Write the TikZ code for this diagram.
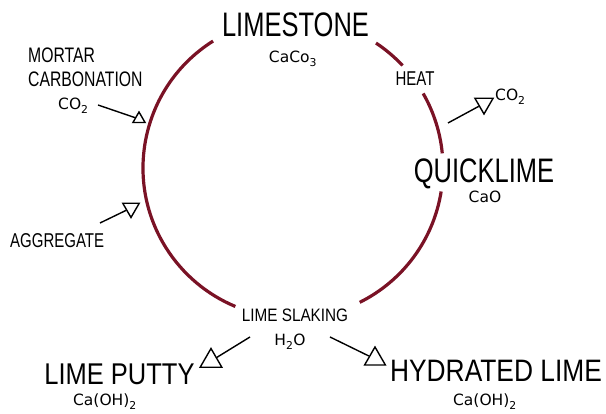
\documentclass[tikz,border=0pt]{standalone}
\usepackage{fontspec}
\newfontfamily\condfont[FakeStretch=0.75]{Liberation Sans}
\newfontfamily\widefont[FakeStretch=0.85]{Liberation Sans}
\newfontfamily\chemfont{DejaVu Sans}
\usetikzlibrary{positioning, shapes.geometric}
\definecolor{cyclecolor}{HTML}{7A1225}

\begin{document}
\begin{tikzpicture}[
    x=1pt, y=1pt,
    ring/.style={draw=cyclecolor, line width=3.2pt},
    stage/.style={font=\condfont\fontsize{34}{34}\selectfont, inner sep=0pt, anchor=base},
    stagewide/.style={font=\widefont\fontsize{30}{30}\selectfont, inner sep=0pt, anchor=base},
    process/.style={font=\condfont\fontsize{20}{20}\selectfont, inner sep=0pt, anchor=base west},
    processwide/.style={font=\widefont\fontsize{18}{18}\selectfont, inner sep=0pt, anchor=base},
    formula/.style={font=\chemfont\fontsize{15.5}{15.5}\selectfont, inner sep=0pt, anchor=base},
    tri/.style={draw, regular polygon, regular polygon sides=3, inner sep=0pt, line width=1.4pt},
    feed/.style={draw, line width=1.4pt},
]
\useasboundingbox (0,0) rectangle (606,414);

% === CYCLE ===
\coordinate (centre) at (293,246);
\draw[ring] (centre) ++(56.4:150) arc[start angle=56.4, end angle=43.1, radius=150];
\draw[ring] (centre) ++(29.8:150) arc[start angle=29.8, end angle=5.6, radius=150];
\draw[ring] (centre) ++(-9:150) arc[start angle=-9, end angle=-63.6, radius=150];
\draw[ring] (centre) ++(122.2:150) arc[start angle=122.2, end angle=247.4, radius=150];

% === STAGES ===
\node[stage] (limestone) at (295.5,377) {LIMESTONE};
\node[formula] (caco3) at (293,351) {CaCo\textsubscript{3}};

\node[stage] (quicklime) at (484,231) {QUICKLIME};
\node[formula] (cao) at (485,211) {CaO};

\node[stagewide, font=\widefont\fontsize{30}{30}\selectfont] (putty) at (119.5,29) {LIME PUTTY};
\node[formula] (putty-f) at (105,8) {Ca(OH)\textsubscript{2}};

\node[stagewide, font=\widefont\fontsize{31}{31}\selectfont] (hydrated) at (496,32) {HYDRATED LIME};
\node[formula] (hydrated-f) at (485,8) {Ca(OH)\textsubscript{2}};

% === PROCESSES ===
\node[process, anchor=base] (heat) at (415,328) {HEAT};
\node[formula, anchor=base west] (co2-out) at (495,313) {CO\textsubscript{2}};

\node[process, font=\condfont\fontsize{21}{21}\selectfont] (mortar) at (28,351) {MORTAR};
\node[process, font=\condfont\fontsize{21}{21}\selectfont] (carbonation) at (28,327) {CARBONATION};
\node[formula, anchor=base west] (co2-in) at (58,304) {CO\textsubscript{2}};

\node[process] (aggregate) at (10,166) {AGGREGATE};

\node[processwide] (slaking) at (295,92) {LIME SLAKING};
\node[formula] (h2o) at (290,68) {H\textsubscript{2}O};

% === ARROWS ===
\node[tri, minimum size=14pt] (tri-mortar) at (139,295) {};
\node[tri, minimum size=19pt, shape border rotate=180] (tri-agg) at (131,206) {};
\node[tri, minimum size=21pt, shape border rotate=180] (tri-co2) at (484,310.5) {};
\node[tri, minimum size=25pt] (tri-putty) at (211,53) {};
\node[tri, minimum size=24pt] (tri-hyd) at (375,55) {};

\coordinate (mortar-start) at (98,309);
\coordinate (agg-start) at (100,191);
\coordinate (co2-start) at (448,291);
\coordinate (putty-start) at (250,77);
\coordinate (hyd-start) at (330,77);

\draw[feed] (mortar-start) -- (tri-mortar);
\draw[feed] (agg-start) -- (tri-agg);
\draw[feed] (co2-start) -- (tri-co2);
\draw[feed] (putty-start) -- (tri-putty);
\draw[feed] (hyd-start) -- (tri-hyd);

\end{tikzpicture}
\end{document}
